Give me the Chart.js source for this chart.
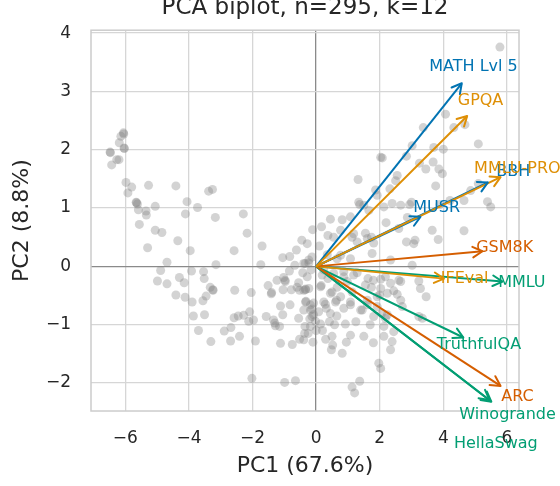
<!DOCTYPE html>
<html>
<head>
<meta charset="utf-8">
<script src="https://cdn.jsdelivr.net/npm/chart.js@4.4.1/dist/chart.umd.min.js"></script>
<style>
html, body { margin: 0; padding: 0; background: #fff; }
</style>
</head>
<body>
<canvas id="myChart" width="560" height="486"></canvas>
<script>
// PC scores of the 295 models
const pcX = [
  -6.06,-6.14,-6.19,-6.04,-6.48,-6.27,-6.2,-6.43,-5.98,-5.8,-5.92,-5.27,-4.41,-3.38,-3.26,-5.66,-5.62,-5.59,-5.35,-5.34,-5.06,-4.06,-3.73,-4.11,-3.17,-2.29,
  -5.56,-5.06,-4.85,-4.35,-5.3,-3.96,-2.17,-2.58,-1.7,-4.69,-4.89,-4.99,-4.69,-4.3,-4.15,-4.41,-4.12,-3.92,-3.9,-3.54,-3.52,-3.15,-3.33,-3.24,-3.46,-3.56,-3.86,-3.51,-3.7,-3.31,-2.89,-2.68,-2.69,-2.41,-2.56,-2.04,-2.58,-2.45,-2.28,-2.09,-2.12,-1.91,-1.74,-1.51,-1.41,-1.57,-1.34,-1.3,-1.12,-1.05,-1.15,-1.12,-0.75,-0.52,-0.82,-1.23,-1.05,-0.83,-0.62,-1.04,-0.98,-0.84,-0.67,-0.78,-0.55,-0.52,-0.34,-0.23,-0.33,-0.39,-0.18,-0.08,-0.35,-0.18,-0.25,-0.39,-0.23,-0.13,-0.16,-0.11,-2.02,-0.99,-0.65,
  0.45,0.17,0.37,0.55,-0.23,-0.42,0.19,0.37,-1.02,-0.97,-0.6,-0.39,0.16,0.5,-0.08,0.29,0.32,-0.13,0.08,0.45,-1.97,-0.55,-0.13,-0.02,0.14,0.42,-0.36,-0.39,0.5,0.52,0.48,-1.28,
  0.82,1.08,1.37,0.77,1.13,1.29,1.55,1.5,1.76,1.81,1.74,2.39,2.66,2.84,3.02,2.34,0.66,0.87,1.29,1.63,1.8,2.03,2.18,2.6,1.55,1.74,2.03,2.0,2.44,2.55,2.66,2.71,1.13,0.98,0.66,0.64,1.08,1.61,1.45,1.81,2.06,2.18,2.13,0.92,0.58,2.44,1.08,1.5,1.8,2.13,2.39,2.34,0.82,1.97,2.03,
  2.94,3.89,2.87,3.65,4.65,3.84,3.11,3.23,3.28,3.46,2.24,3.23,3.34,1.37,1.13,1.21,
  5.78,4.07,4.33,3.37,4.68,5.1,3.7,4.0,3.02,2.03,2.08,2.84,3.25,3.45,3.68,3.86,3.97,2.55,2.5,1.32,3.76,5.1,4.86,1.87,2.32,1.92,1.34,3.0,4.21,4.65,5.39,5.49,2.13,1.66,
  1.18,1.61,3.07,-0.28,-0.34,0.77,1.08,0.24,0.55,0.87,1.18,2.34,2.66,-0.28,0.14,0.45,0.77,1.08,0.61,0.24,-0.18,1.61,1.92,2.24,1.92,1.4,0.87,
  -1.4,-0.33,-0.32,-3.25,-5.65,-6.47,-6.05,-6.03,-0.2,0.0,0.2,-0.1,0.3,0.65,0.95,1.25,1.7,0.35,0.1,-0.45,2.6,2.2
]
const pcY = [
  2.29,2.23,2.12,2.03,1.96,1.83,1.83,1.74,1.44,1.36,1.26,1.39,1.38,1.29,1.32,1.1,1.07,0.97,0.95,0.88,1.03,1.11,1.01,0.9,0.84,0.9,
  0.72,0.62,0.58,0.44,0.32,0.27,0.57,0.27,0.35,0.07,-0.07,-0.25,-0.3,-0.19,-0.28,-0.49,-0.53,-0.08,-0.61,-0.09,-0.21,0.03,-0.36,-0.41,-0.51,-0.59,-0.85,-0.83,-1.1,-1.29,-1.11,-1.05,-1.28,-1.2,-0.41,-0.45,-0.88,-0.85,-0.84,-0.78,-0.94,-1.28,0.03,-0.33,-0.47,-0.86,-0.92,-0.97,-0.68,-0.83,-1.03,-1.32,-1.34,-1.25,-0.66,-0.24,0.15,0.17,0.28,-0.4,-0.24,-0.08,0.02,-0.4,-0.28,-0.41,-0.4,-0.38,-0.61,-0.75,-0.75,-0.83,-1.03,-1.03,-1.15,0.05,0.11,0.16,-0.06,0.63,-1.92,-1.99,-1.96,
  0.81,0.68,0.53,0.5,0.06,-0.11,-0.15,-0.21,-0.19,-0.26,-0.36,-0.41,-0.33,-0.44,-0.63,-0.65,-0.72,-0.73,-0.78,-0.81,-0.92,-0.89,-0.86,-0.94,-0.99,-0.95,-1.15,-1.26,-1.2,-1.35,-1.43,-1.02,
  0.8,0.85,1.06,0.62,0.5,0.42,0.57,1.05,0.22,0.4,0.5,1.08,1.05,0.42,0.02,0.11,0.13,-0.09,-0.11,-0.21,-0.24,-0.22,-0.18,-0.24,-0.32,-0.36,-0.38,-0.49,-0.42,-0.48,-0.58,-0.69,-0.44,-0.26,-0.36,-0.58,-0.66,-0.66,-0.75,-0.86,-0.81,-0.89,-1.03,-0.99,-1.0,-1.12,-1.18,-1.2,-1.31,-1.2,-1.29,-1.43,-1.49,-1.66,-1.75,
  1.06,1.06,0.84,0.62,0.61,0.46,0.45,-0.25,-0.38,-0.52,-0.83,-0.86,-0.89,-1.97,-2.07,-2.17,
  3.76,2.61,2.38,2.38,2.43,2.1,2.04,2.01,2.07,1.87,1.86,1.89,1.77,1.67,1.79,1.67,1.59,1.56,1.47,1.49,1.38,1.42,1.3,1.31,1.33,1.22,1.1,1.1,1.13,1.13,1.11,1.02,1.02,0.96,
  0.56,0.48,0.39,0.39,0.05,0.19,0.13,-0.06,-0.12,-0.18,-0.15,-0.29,-0.26,-0.18,-0.35,-0.46,-0.52,-0.61,-0.61,-0.61,-0.66,-0.58,-0.52,-0.46,-0.69,-0.75,-0.72,
  -0.45,-0.39,-0.6,-0.4,1.09,1.95,2.27,2.02,-0.9,-1.1,-1.1,-1.3,-1.25,-0.85,-1.3,-0.95,-1.0,0.2,0.35,0.45,0.65,0.75
]

// loadings (arrow tips) and where each name sits
const loadingNames = ["BBH", "MUSR", "MATH Lvl 5", "HellaSwag", "Winogrande", "TruthfulQA", "ARC", "MMLU", "IFEval", "GSM8K", "GPQA", "MMLU-PRO"]
const loadingX = [5.4, 3.28, 4.58, 5.45, 5.51, 4.63, 5.8, 5.86, 4.02, 5.23, 4.75, 5.8]
const loadingY = [1.44, 0.85, 3.14, -2.29, -2.32, -1.22, -2.05, -0.26, -0.21, 0.26, 2.58, 1.53]
const labelX = [6.2, 3.79, 4.95, 5.65, 6.02, 5.12, 6.33, 6.47, 4.67, 5.93, 5.17, 6.33]
const labelY = [1.62, 1.01, 3.43, -3.04, -2.54, -1.35, -2.23, -0.28, -0.21, 0.32, 2.84, 1.67]

const xTicks = [-6, -4, -2, 0, 2, 4, 6]
const yTicks = [-2, -1, 0, 1, 2, 3, 4]

const blue = "#0173b2", orange = "#de8f05", green = "#029e73", red = "#d55e00"
const loadingColors = [blue, blue, blue, green, green, green, red, green, orange, red, orange, orange]

const fontName = '"DejaVu Sans", sans-serif'
const textColor = "#262626"

function minus(v){
    return v < 0 ? "\u2212" + Math.abs(v) : String(v)
}

const datasets = [{
    type: "scatter",
    data: pcX.map((x, i) => ({x: x, y: pcY[i]})),
    backgroundColor: "rgba(128,128,128,0.35)",
    borderWidth: 0,
    pointRadius: 4.5,
    pointHoverRadius: 4.5,
    order: 50
}]

loadingNames.forEach((name, i) => {
    datasets.push({
        type: "line",
        label: name,
        data: [{x: 0, y: 0}, {x: loadingX[i], y: loadingY[i]}],
        borderColor: loadingColors[i],
        borderWidth: 2,
        pointRadius: 0,
        fill: false,
        order: 40 - i
    })
})

const extras = {
    id: "extras",
    beforeDatasetsDraw(chart){
        const {ctx, chartArea: a} = chart
        ctx.save()
        ctx.strokeStyle = "#cccccc"
        ctx.lineWidth = 1.5
        ctx.strokeRect(a.left, a.top, a.right - a.left, a.bottom - a.top)
        ctx.restore()
    },
    afterDatasetsDraw(chart){
        const {ctx, scales: {x, y}} = chart
        const x0 = x.getPixelForValue(0), y0 = y.getPixelForValue(0)
        ctx.save()
        ctx.lineWidth = 2
        ctx.lineCap = "round"
        loadingNames.forEach((name, i) => {
            const x1 = x.getPixelForValue(loadingX[i]), y1 = y.getPixelForValue(loadingY[i])
            const ang = Math.atan2(y1 - y0, x1 - x0)
            ctx.strokeStyle = loadingColors[i]
            ctx.beginPath()
            ;[-1, 1].forEach(s => {
                ctx.moveTo(x1, y1)
                ctx.lineTo(x1 - 11 * Math.cos(ang + s * 0.5), y1 - 11 * Math.sin(ang + s * 0.5))
            })
            ctx.stroke()
        })
        ctx.font = "16px " + fontName
        ctx.textAlign = "center"
        ctx.textBaseline = "middle"
        loadingNames.forEach((name, i) => {
            ctx.fillStyle = loadingColors[i]
            ctx.fillText(name, x.getPixelForValue(labelX[i]), y.getPixelForValue(labelY[i]))
        })
        ctx.restore()
    },
    afterDraw(chart){
        const {ctx, chartArea: a} = chart
        ctx.save()
        ctx.font = "23px " + fontName
        ctx.fillStyle = textColor
        ctx.textAlign = "center"
        ctx.textBaseline = "alphabetic"
        ctx.fillText("PCA biplot, n=295, k=12", (a.left + a.right) / 2, 14)
        ctx.restore()
    }
}

const gridColor = c => (c.tick && c.tick.value === 0) ? "#8a8a8a" : "#d6d6d6"
const gridWidth = c => (c.tick && c.tick.value === 0) ? 1.3 : 1.3

new Chart(document.getElementById("myChart").getContext("2d"), {
    data: {datasets: datasets},
    options: {
        responsive: false,
        animation: false,
        devicePixelRatio: 1,
        layout: {padding: {top: 27, right: 41, left: 0, bottom: 0}},
        plugins: {legend: {display: false}, tooltip: {enabled: false}, title: {display: false}},
        scales: {
            x: {
                type: "linear",
                min: -7.08,
                max: 6.38,
                afterBuildTicks: s => { s.ticks = xTicks.map(v => ({value: v})) },
                afterFit: s => { s.height = 75 },
                grid: {color: gridColor, lineWidth: gridWidth, drawTicks: false},
                border: {display: false},
                ticks: {includeBounds: false, padding: 17, color: textColor, font: {family: fontName, size: 17}, callback: v => minus(v), maxRotation: 0},
                title: {display: true, text: "PC1 (67.6%)", color: textColor, font: {family: fontName, size: 22}, padding: {top: 0, bottom: 7}}
            },
            y: {
                type: "linear",
                min: -2.48,
                max: 4.05,
                afterBuildTicks: s => { s.ticks = yTicks.map(v => ({value: v})) },
                afterFit: s => { s.width = 91 },
                grid: {color: gridColor, lineWidth: gridWidth, drawTicks: false},
                border: {display: false},
                ticks: {includeBounds: false, padding: 20, color: textColor, font: {family: fontName, size: 17}, callback: v => minus(v)},
                title: {display: true, text: "PC2 (8.8%)", color: textColor, font: {family: fontName, size: 22}, padding: {top: 9, bottom: 0}}
            }
        }
    },
    plugins: [extras]
})
</script>
</body>
</html>
